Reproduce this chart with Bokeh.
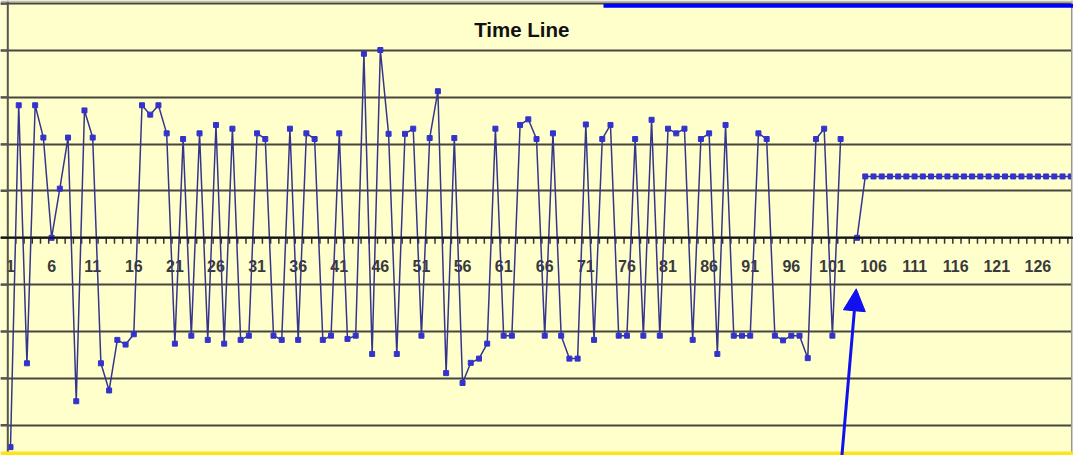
from bokeh.plotting import figure
from bokeh.models import Range1d, Span, Grid, SingleIntervalTicker, BoxAnnotation, Arrow, NormalHead, Label, ColumnDataSource
from bokeh.embed import file_html
from bokeh.resources import INLINE
from bokeh.core.properties import value

nan = float("nan")

# ---- data ----
categories = list(range(1, 131))
values = [
    -4.47, 2.83, -2.68, 2.83, 2.14, 0.0, 1.05, 2.14, -3.49, 2.72,
    2.14, -2.68, -3.26, -2.18, -2.28, -2.06, 2.83, 2.63, 2.83, 2.23,
    -2.26, 2.11, -2.09, 2.23, -2.18, 2.41, -2.26, 2.33, -2.18, -2.09,
    2.23, 2.11, -2.09, -2.18, 2.33, -2.18, 2.23, 2.11, -2.18, -2.09,
    2.23, -2.16, -2.09, 3.93, -2.48, 4.01, 2.22, -2.48, 2.22, 2.33,
    -2.09, 2.13, 3.13, -2.89, 2.13, -3.10, -2.67, -2.58, -2.26, 2.33,
    -2.09, -2.09, 2.41, 2.53, 2.11, -2.09, 2.23, -2.09, -2.58, -2.58,
    2.42, -2.18, 2.11, 2.41, -2.09, -2.09, 2.11, -2.09, 2.52, -2.09,
    2.33, 2.23, 2.33, -2.18, 2.11, 2.23, -2.48, 2.41, -2.09, -2.09,
    -2.09, 2.23, 2.11, -2.09, -2.19, -2.09, -2.09, -2.57, 2.11, 2.33,
    -2.09, 2.11, nan, 0.0, 1.31, 1.31, 1.31, 1.31, 1.31, 1.31,
    1.31, 1.31, 1.31, 1.31, 1.31, 1.31, 1.31, 1.31, 1.31, 1.31,
    1.31, 1.31, 1.31, 1.31, 1.31, 1.31, 1.31, 1.31, 1.31, 1.31,
]
tick_labels = ["1", "6", "11", "16", "21", "26", "31", "36", "41", "46", "51", "56",
               "61", "66", "71", "76", "81", "86", "91", "96", "101", "106", "111",
               "116", "121", "126"]
y_levels = [-4, -3, -2, -1, 0, 1, 2, 3, 4, 5]
title_text = "Time Line"
arrow_target = 104  # category the arrow points at

W, H = 1073, 455
px_x = 8.219   # pixels per category
px_y = 46.83   # pixels per unit
zero_px = 237.3
x0 = 1 - 10 / px_x


def xv(px):
    return x0 + px / px_x


def yv(py):
    return (zero_px - py) / px_y


p = figure(width=W, height=H, output_backend="svg", toolbar_location=None,
           x_range=Range1d(x0, x0 + W / px_x),
           y_range=Range1d(yv(H), yv(0)),
           x_axis_location=None, y_axis_location=None,
           min_border=0, min_border_left=0, min_border_right=0,
           min_border_top=0, min_border_bottom=0,
           background_fill_color="#FFFFCC", border_fill_color="#FFFFCC",
           outline_line_color=None)
p.grid.visible = False

grid = Grid(dimension=1, ticker=SingleIntervalTicker(interval=1),
            grid_line_color="#46463c", grid_line_width=2)
p.add_layout(grid, "center")

# value axis line with outside ticks
p.add_layout(Span(location=xv(7.3), dimension="height", line_color="#555555", line_width=2))
ytick_src = ColumnDataSource(dict(y=y_levels, x0=[xv(0)] * len(y_levels),
                                  x1=[xv(7.3)] * len(y_levels)))
p.segment(x0="x0", y0="y", x1="x1", y1="y", source=ytick_src,
          line_color="#555555", line_width=2)

# right frame and white edge
p.add_layout(BoxAnnotation(left=xv(1071), fill_color="#f4f4f4", fill_alpha=1,
                           line_color=None))
p.add_layout(Span(location=xv(1071.2), dimension="height", line_color="#9a9a90", line_width=1.5))
# gray line along the very top
p.add_layout(BoxAnnotation(bottom=yv(1.5), fill_color="#bdbdb5", fill_alpha=1,
                           line_color=None))
# blue bar at top right
p.add_layout(BoxAnnotation(left=xv(603), top=yv(3.3), bottom=yv(7.3),
                           fill_color="#0000FF", fill_alpha=1, line_color=None))
# gold strip at the bottom
p.add_layout(BoxAnnotation(top=yv(451), fill_color="#FFE31A", fill_alpha=1,
                           line_color=None))

# category axis at y=0
p.add_layout(Span(location=0, dimension="width", line_color="#151515", line_width=2))
tick_src = ColumnDataSource(dict(x=[c + 0.65 for c in categories],
                                 y0=[0.0] * len(categories),
                                 y1=[-6 / px_y] * len(categories)))
p.segment(x0="x", y0="y0", x1="x", y1="y1", source=tick_src,
          line_color="#333333", line_width=1.5)
lab_src = ColumnDataSource(dict(x=[int(t) for t in tick_labels],
                                y=[0.0] * len(tick_labels), t=tick_labels))
p.text(x="x", y="y", text="t", source=lab_src, y_offset=28,
       text_align="center", text_baseline="middle",
       text_font=value("Liberation Sans"), text_font_size="16px",
       text_font_style="bold", text_color="#3a3a3a")

# series
src = ColumnDataSource(dict(x=categories, y=values))
p.line(x="x", y="y", source=src, line_color="#35358c", line_width=1.5)
p.scatter(x="x", y="y", source=src, marker="square", size=5,
          fill_color="#3333cc", line_color="#3333cc")

# title
p.add_layout(Label(x=xv(521.3), y=yv(28.5), text=title_text,
                   text_align="center", text_baseline="middle",
                   text_font="Liberation Sans", text_font_style="bold",
                   text_font_size="20.5px", text_color="#111111"))

# arrow
p.add_layout(Arrow(end=NormalHead(size=22, fill_color="#1010f0", line_color="#1010f0"),
                   x_start=xv(841), y_start=yv(460),
                   x_end=arrow_target - 0.1, y_end=yv(288.3),
                   line_color="#1010f0", line_width=3))

open("out.html", "w").write(file_html(p, INLINE))
